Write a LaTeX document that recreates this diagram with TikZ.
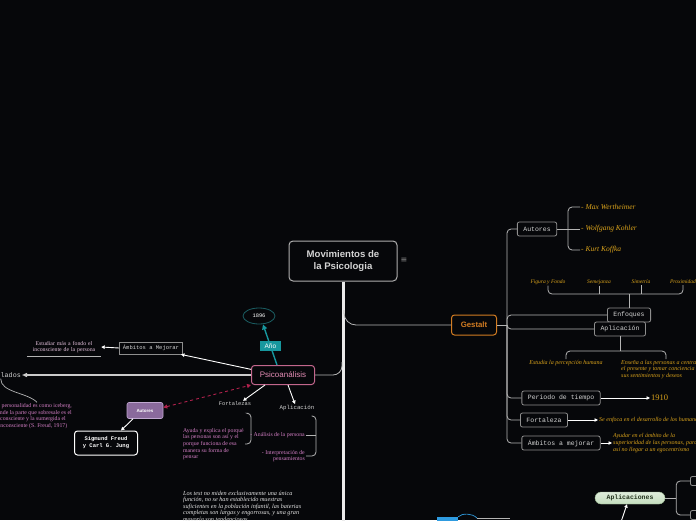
\documentclass[tikz,border=0pt]{standalone}
\usepackage{fontspec}
\setmainfont{Liberation Serif}
\setsansfont{Liberation Sans}
\setmonofont{Liberation Mono}
\newfontfamily\djv{DejaVu Sans}
\usetikzlibrary{positioning,arrows.meta,calc,shapes.geometric}
\definecolor{fondo}{HTML}{06070A}
\definecolor{linegray}{HTML}{B4B4B4}
\definecolor{boxgray}{HTML}{8E8E8E}
\definecolor{maingray}{HTML}{AEAEAE}
\definecolor{textgray}{HTML}{D4D4D4}
\definecolor{dorado}{HTML}{D9A21B}
\definecolor{naranja}{HTML}{D27C22}
\definecolor{psico}{HTML}{C2668C}
\definecolor{psicotxt}{HTML}{E58DB5}
\definecolor{rosado}{HTML}{D57FC6}
\definecolor{rosaclaro}{HTML}{E6C3DE}
\definecolor{turquesa}{HTML}{17979E}
\definecolor{tealosc}{HTML}{1B5E63}
\definecolor{crim}{HTML}{B2214D}
\definecolor{lila}{HTML}{8A6A9C}
\definecolor{lilaborde}{HTML}{C0A8D0}
\definecolor{verde}{HTML}{C4DDBE}
\definecolor{verdeborde}{HTML}{9DBB94}
\definecolor{verdetxt}{HTML}{24341F}
\definecolor{azul}{HTML}{2E9BE0}
\newcommand{\tam}[2]{\fontsize{#1}{#2}\selectfont}

\begin{document}
\begin{tikzpicture}[x=1pt,y=-1pt,
  lnk/.style={draw=linegray,line width=0.8pt,rounded corners=4pt},
  ar/.style={-{Triangle[length=3.5pt,width=3.5pt]},white,line width=0.9pt},
  mono/.style={font=\tam{5.5}{6.5}\ttfamily,text=textgray,inner sep=1pt},
  sub/.style={draw=boxgray,line width=0.8pt,rounded corners=2pt,fill=fondo,minimum height=14pt,inner xsep=6pt,inner ysep=1pt,font=\tam{6.5}{7.5}\ttfamily,text=textgray},
  oro/.style={font=\tam{6}{6.6}\itshape,text=dorado,inner sep=1pt},
  rosa/.style={font=\tam{5.8}{6.6},text=rosado,inner sep=1pt}]
\path[use as bounding box,fill=fondo] (0,0) rectangle (696,520);
\node[draw=maingray,line width=1pt,rounded corners=4pt,minimum width=108pt,minimum height=40pt,align=center,font=\tam{9.6}{12}\sffamily\bfseries,text=textgray] (mov) at (343,261) {Movimientos de\\la Psicologia};
\node[font=\tam{8}{9}\djv,text=boxgray,inner sep=0pt] (menu) at (404,260) {≡};
\coordinate (tronco) at (343,522);
\draw[white!92!black,line width=3pt] (mov.south) -- (tronco);
\node[draw=naranja,line width=1pt,rounded corners=3pt,minimum width=45pt,minimum height=20pt,fill=fondo,font=\tam{7.8}{9}\sffamily\bfseries,text=naranja] (ges) at (474,325) {Gestalt};
\node[draw=psico,line width=1pt,rounded corners=3pt,minimum width=63pt,minimum height=19pt,fill=fondo,font=\tam{8}{9}\sffamily,text=psicotxt] (psi) at (283,375) {Psicoanálisis};
\draw[lnk,rounded corners=12pt] (344,310) |- (ges.west);
\draw[lnk,rounded corners=9pt] (342,362) |- (psi.east);

\node[ellipse,draw=tealosc,line width=0.8pt,minimum width=32pt,minimum height=16pt,font=\tam{5.4}{6}\ttfamily,text=white,inner sep=1pt] (anio) at (259,316) {1896};
\draw[turquesa,line width=1.4pt,-{Triangle[length=5pt,width=5pt]}] ($(psi.north)+(-6,0)$) -- node[pos=0.47,fill=turquesa,text=white,font=\tam{6.5}{7}\sffamily,inner xsep=4.5pt,inner ysep=2.5pt]{Año} ($(anio.south)+(4,0)$);
\node[mono,draw=boxgray,line width=0.8pt,minimum height=12pt,inner xsep=3.5pt] (ambp) at (151,348) {Ámbitos a Mejorar};
\node[rosa,text=rosaclaro,text width=74pt,align=center,inner xsep=0pt,inner ysep=3pt] (estu) at (64,347) {Estudiar más a fondo el\\inconsciente de la persona};
\draw[linegray,line width=0.8pt] (estu.south west) -- (estu.south east);
\draw[ar] (ambp.west) -- (estu.east);
\draw[ar] (psi.170) -- ($(ambp.south east)+(-2,0)$);
\node[mono,font=\tam{6.7}{7.5}\ttfamily,anchor=east] (post) at (22,375) {Postulados};
\draw[-{Triangle[length=5pt,width=4pt]},linegray!70!white,line width=1.6pt] (psi.west) -- (post.east);
\node[rosa,align=center] (ice) at (33,416) {La personalidad es como iceberg,\\donde la parte que sobresale es el\\consciente y la sumergida el\\inconsciente (S. Freud, 1917)};
\draw[linegray,line width=0.7pt] (post.south) .. controls ($(post.south)+(0,14)$) and ($(ice.north)+(-6,-10)$) .. ($(ice.north)+(4,0)$);
\node[fill=lila,draw=lilaborde,line width=0.6pt,rounded corners=2pt,minimum width=36pt,minimum height=16pt,font=\tam{4.5}{5}\sffamily\bfseries,text=white] (autp) at (145,410.5) {Autores};
\draw[crim,dashed,line width=0.9pt,{Triangle[length=4pt,width=4pt]}-{Triangle[length=4pt,width=4pt]}] ($(autp.east)+(0,-3)$) -- (psi.south west);
\node[draw=white,line width=1pt,rounded corners=3pt,minimum width=63pt,minimum height=24pt,align=center,font=\tam{5.5}{7}\ttfamily\bfseries,text=white] (fj) at (106,443) {Sigmund Freud\\y Carl G. Jung};
\draw[ar] ($(autp.south)+(-12,0)$) -- ($(fj.north)+(15,0)$);
\node[mono,font=\tam{5.4}{6}\ttfamily] (fortp) at (235,404) {Fortalezas};
\node[mono,font=\tam{5.8}{6.5}\ttfamily] (aplp) at (297,408) {Aplicación};
\draw[ar] ($(psi.south)+(-18,0)$) -- ($(fortp.north)+(8,0)$);
\draw[ar] ($(psi.south)+(5,0)$) -- ($(aplp.north)+(-2,0)$);
\node[rosa,anchor=east,align=left] (fa) at (245,444) {Ayuda y explica el porqué\\las personas son así y el\\porque funciona de esa\\manera su forma de\\pensar};
\draw[lnk] (fortp.south east) ++(-4,6) -| ($(fa.east)+(6,0)$) -- (fa.east);
\node[rosa,anchor=east] (an) at (306,435) {- Análisis de la persona};
\node[rosa,anchor=east,align=right] (ip) at (306,456) {- Interpretación de\\pensamientos};
\draw[lnk] (aplp.south east) ++(-4,4) -| ($(ip.east)+(10,0)$) -- (ip.east);
\draw[lnk] (an.east) -- ++(10,0);
\node[font=\tam{6.2}{6.4}\itshape,text=white!90!black,anchor=north west,align=left,inner sep=0pt] (tests) at (183,491) {Los test no miden exclusivamente una única\\función, no se han establecido muestras\\suficientes en la población infantil, las baterias\\completas son largas y engorrosas, y una gran\\mayoría son tendenciosas};

\node[fill=azul,minimum width=21pt,minimum height=10pt,inner sep=0pt] (azulb) at (447.5,522) {};
\coordinate (azmid) at (477,518);
\coordinate (azfin) at (510,518);
\draw[azul,line width=0.7pt] (azulb.north east) .. controls (462,513) and (472,513) .. (azmid);
\draw[linegray,line width=0.7pt] (azmid) -- (azfin);
\node[draw=verdeborde,top color=verde!55!white,bottom color=verde,rounded corners=6pt,minimum width=70pt,minimum height=12pt,font=\tam{6.5}{7}\ttfamily\bfseries,text=verdetxt,inner sep=1pt] (apls) at (630,498) {Aplicaciones};
\coordinate (aplsin) at (621,522);
\draw[ar] (aplsin) -- ($(apls.south)+(-3,0)$);
\node[draw=boxgray,line width=0.8pt,rounded corners=2pt,minimum width=30pt,minimum height=9pt,anchor=west] (apa) at (690,481) {};
\node[draw=boxgray,line width=0.8pt,rounded corners=2pt,minimum width=30pt,minimum height=9pt,anchor=west] (apb) at (690,515) {};
\draw[lnk] (apls.east) -- ++(11,0);
\draw[lnk] (apa.west) -| ($(apls.east)+(11,0)$) |- (apb.west);

\coordinate (gsp) at (507,325);
\draw[lnk] (ges.east) -- (gsp);
\node[sub] (gaut) at (537,229) {Autores};
\node[sub] (enf) at (629,315) {Enfoques};
\node[sub] (gapl) at (620,329) {Aplicación};
\node[sub] (per) at (561,398) {Periodo de tiempo};
\node[sub] (gfort) at (544,420) {Fortaleza};
\node[sub] (gamb) at (561,443) {Ámbitos a mejorar};
\foreach \n in {gaut,enf,gapl,per,gfort,gamb}
  \draw[lnk] (gsp) |- (\n.west);
\node[oro,font=\tam{7.5}{8}\itshape,anchor=west] (mw) at (580,207) {- Max Wertheimer};
\node[oro,font=\tam{7.5}{8}\itshape,anchor=west] (wk) at (580,229) {- Wolfgang Kohler};
\node[oro,font=\tam{7.5}{8}\itshape,anchor=west] (kk) at (580,250) {- Kurt Koffka};
\draw[lnk] (gaut.east) -- (wk.west);
\draw[lnk] (mw.west) -| ($(gaut.east)+(11,0)$) |- (kk.west);
\node[oro,font=\tam{5.5}{6}\itshape] (fyf) at (548,282) {Figura y Fondo};
\node[oro,font=\tam{5.5}{6}\itshape] (sem) at (599,282) {Semejanza};
\node[oro,font=\tam{5.5}{6}\itshape] (sim) at (641,282) {Simetría};
\node[oro,font=\tam{5.5}{6}\itshape] (prox) at (683,282) {Proximidad};
\coordinate (ebar) at (0,294);
\draw[lnk] (fyf.south) |- (prox.south |- ebar) -- (prox.south);
\foreach \n in {sem,sim}
  \draw[lnk] (\n.south) -- (\n.south |- ebar);
\draw[lnk] (enf.north) -- (enf.north |- ebar);
\coordinate (abar) at (0,351);
\node[oro] (epe) at (566,363) {Estudia la percepción humana};
\node[oro,anchor=north west,align=left] (ens) at (620,359) {Enseña a las personas a centrarse en\\el presente y tomar conciencia de\\sus sentimientos y deseos};
\draw[lnk] (epe.north) |- (ens.north |- abar) -- (ens.north);
\draw[lnk] (gapl.south) -- (gapl.south |- abar);
\node[oro,font=\tam{8.5}{9}\rmfamily,anchor=west] (y1910) at (650,398) {1910};
\draw[ar] (per.east) -- (y1910.west);
\node[oro,anchor=west] (enfo) at (598,420) {Se enfoca en el desarrollo de los humanos};
\draw[ar] (gfort.east) -- (enfo.west);
\node[oro,anchor=west,align=left] (ayu) at (612,443) {Ayudar en el ámbito de la\\superioridad de las personas, para\\así no llegar a un egocentrismo};
\draw[ar] (gamb.east) -- (ayu.west);
\end{tikzpicture}
\end{document}
